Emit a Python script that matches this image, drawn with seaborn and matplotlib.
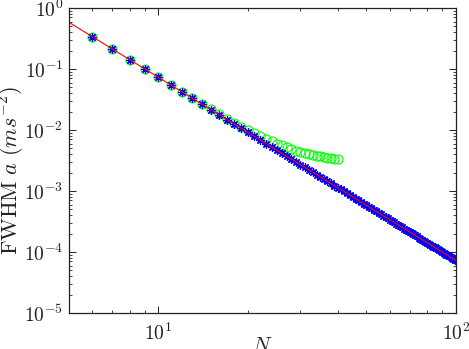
import matplotlib
matplotlib.use('Agg')
import matplotlib.pyplot as plt
import pandas as pd
import seaborn as sns

# fitted power law (red line), drawn between its two end points
fit_n = [5, 100]
fit_a = [0.584, 0.000073]

# simulated FWHM values (blue asterisks), N = 6 .. 100
sim_n = list(range(6, 101))
sim_a = [0.338, 0.2128, 0.1426, 0.1001, 0.073, 0.0548, 0.0422, 0.0332, 0.0266, 0.0216,
         0.0178, 0.01486, 0.01252, 0.01064, 0.00913, 0.00788, 0.00686, 0.00600, 0.00528, 0.00467,
         0.00415, 0.00371, 0.00333, 0.00299, 0.00270, 0.00245, 0.00223, 0.00203, 0.00186, 0.00170,
         0.00156, 0.00144, 0.00133, 0.00123, 0.00114, 0.00106, 0.000985, 0.000918, 0.000857, 0.000801,
         0.000750, 0.000703, 0.000660, 0.000620, 0.000584, 0.000550, 0.000519, 0.000490, 0.000464, 0.000439,
         0.000416, 0.000394, 0.000374, 0.000355, 0.000338, 0.000322, 0.000306, 0.000292, 0.000278, 0.000266,
         0.000254, 0.000243, 0.000232, 0.000222, 0.000213, 0.000204, 0.000196, 0.000188, 0.000180, 0.000173,
         0.000166, 0.000160, 0.000154, 0.000148, 0.000143, 0.000137, 0.000132, 0.000128, 0.000123, 0.000119,
         0.000115, 0.000111, 0.000107, 0.000104, 0.000100, 0.0000969, 0.0000937, 0.0000908, 0.0000879, 0.0000851,
         0.0000825, 0.0000800, 0.0000776, 0.0000752, 0.0000730]

# measured values (green circles), N = 6 .. 40
meas_n = list(range(6, 41))
meas_a = [0.338, 0.213, 0.143, 0.100, 0.073, 0.0549, 0.0423, 0.0334, 0.0268, 0.0219,
          0.0182, 0.0153, 0.0131, 0.0114, 0.0100, 0.0089, 0.0080, 0.0072, 0.0066, 0.0060,
          0.0056, 0.0052, 0.0049, 0.0046, 0.0044, 0.0042, 0.0040, 0.0039, 0.0038, 0.0037,
          0.0036, 0.0035, 0.0035, 0.0034, 0.0034]

x_ticks = [10, 100]
x_labels = [r'$10^{1}$', r'$10^{2}$']
y_ticks = [1e-5, 1e-4, 1e-3, 1e-2, 1e-1, 1]
y_labels = [r'$10^{-5}$', r'$10^{-4}$', r'$10^{-3}$', r'$10^{-2}$', r'$10^{-1}$', r'$10^{0}$']

sns.set_style('ticks')
plt.rcParams['mathtext.fontset'] = 'cm'
plt.rcParams['font.family'] = ['DejaVu Serif']

df_fit = pd.DataFrame({'N': fit_n, 'a': fit_a})
df_sim = pd.DataFrame({'N': sim_n, 'a': sim_a})
df_meas = pd.DataFrame({'N': meas_n, 'a': meas_a})

fig, ax = plt.subplots(figsize=(4.69, 3.49), dpi=100)
fig.subplots_adjust(left=0.147, right=0.972, bottom=0.103, top=0.977)

sns.lineplot(data=df_meas, x='N', y='a', ax=ax, estimator=None, sort=False,
             linestyle='none', marker='o', markersize=6.5, markerfacecolor='none',
             markeredgecolor='#00ff00', markeredgewidth=0.8)
sns.lineplot(data=df_sim, x='N', y='a', ax=ax, estimator=None, sort=False,
             linestyle='none', marker=(8, 2, 0), markersize=6,
             markeredgecolor='#0000ff', markeredgewidth=0.9)
sns.lineplot(data=df_fit, x='N', y='a', ax=ax, estimator=None, sort=False,
             color='#ff0000', linewidth=0.8)

ax.set_xscale('log')
ax.set_yscale('log')
ax.set_xlim(5, 100)
ax.set_ylim(1e-5, 1)
ax.set_xticks(x_ticks)
ax.set_xticklabels(x_labels)
ax.set_yticks(y_ticks)
ax.set_yticklabels(y_labels)

ax.tick_params(which='both', direction='in', top=True, right=True, labelsize=14, colors='#222222')
ax.tick_params(which='major', length=5, width=0.7)
ax.tick_params(which='minor', length=2.5, width=0.6)
ax.tick_params(axis='x', which='both', pad=7)
ax.tick_params(axis='y', which='both', pad=4)
for s in ax.spines.values():
    s.set_visible(True)
    s.set_linewidth(0.9)
    s.set_color('#222222')

ax.set_xlabel(r'$N$', fontsize=15, labelpad=-6)
ax.set_ylabel(r'$\mathrm{FWHM}\ a\ (ms^{-2})$', fontsize=16, color='#222222')
ax.yaxis.set_label_coords(-0.109, 0.466)

fig.savefig('out.png', dpi=100)
